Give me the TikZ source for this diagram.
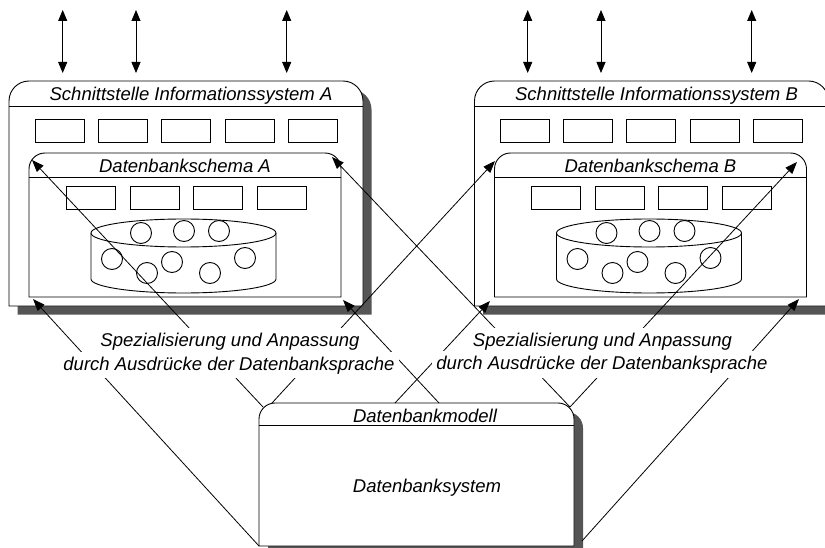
\documentclass[tikz,border=0pt]{standalone}
\usepackage{fontspec}
\setmainfont{Liberation Sans}
\usetikzlibrary{arrows.meta}
\definecolor{shadowgray}{RGB}{85,85,85}
\tikzset{
  frame/.style={draw=black, line width=0.9pt, fill=white},
  shade/.style={fill=shadowgray, draw=none},
  slot/.style={draw=black, line width=0.9pt},
  conn/.style={line width=0.8pt, -{Triangle[length=12pt,width=9pt]}},
  io/.style={line width=0.8pt, {Triangle[length=11pt,width=9pt]}-{Triangle[length=11pt,width=9pt]}},
  title/.style={font=\fontsize{18.5}{22}\selectfont\itshape, inner sep=0pt},
  note/.style={title, fill=white, text height=14.5pt, text depth=4pt, inner xsep=4pt, inner ysep=4pt},
}
% box with a rounded tab on top: left, top, right, bottom, radius
\newcommand\tabshape[5]{(#1,#4) [rounded corners=#5] -- (#1,#2) -- (#3,#2) [sharp corners] -- (#3,#4) -- cycle}
\begin{document}
\begin{tikzpicture}[x=1pt,y=-1pt]
\useasboundingbox (0,0) rectangle (825,548);
\clip (0,0) rectangle (825,548);

% two information systems, each with its database schema
\foreach \sys/\dx in {A/0,B/465.5} {
  \begin{scope}[xshift=\dx pt]
    \fill[shade, xshift=8.5pt, yshift=-8.5pt] \tabshape{9}{81}{363}{306}{20pt};
    \draw[frame] \tabshape{9}{81}{363}{306}{20pt};
    \draw[slot] (9,106) -- (363,106);
    \node[title, anchor=base] (ttl\sys) at (191,100.5) {Schnittstelle Informationssystem \sys};
    \foreach \x in {35,98,161,225,288} \draw[slot] (\x,119) rectangle ++(49,23);
    % database schema
    \draw[frame] \tabshape{29}{153}{341}{297}{16pt};
    \draw[slot] (29,177) -- (341,177);
    \node[title, anchor=base] (sch\sys) at (185,173) {Datenbankschema \sys};
    \foreach \x in {66,130,193,257} \draw[slot] (\x,186) rectangle ++(49,23);
    % data store
    \draw[slot] (183.5,233) ellipse[x radius=92.5pt, y radius=14pt];
    \draw[slot] (91,233) -- (91,279) arc[start angle=180, end angle=360, x radius=92.5pt, y radius=14pt] -- (276,233);
    \foreach \cx/\cy in {141/233,184/231,219/231,112/259,147/273,172/262,210/273,245/258}
      \draw[slot] (\cx,\cy) circle[radius=10.5pt];
  \end{scope}
}

% database model / database system
\fill[shade, xshift=9pt, yshift=-9pt] \tabshape{259}{403}{574}{546}{16pt};
\draw[frame] \tabshape{259}{403}{574}{546}{16pt};
\draw[slot] (259,425) -- (574,425);
\node[title, anchor=base] (model) at (425,422.5) {Datenbankmodell};
\node[title, anchor=base] (dbs) at (427,492) {Datenbanksystem};

% external interfaces
\foreach \x [count=\i] in {62.7,136,286.7,527.7,601,751.7} {
  \coordinate (up\i) at (\x,10);
  \coordinate (dn\i) at (\x,73);
  \draw[io] (up\i) -- (dn\i);
}

% connector end points
\coordinate (iaTL) at (32,160);
\coordinate (iaTR) at (332,157);
\coordinate (iaBL) at (33,299);
\coordinate (iaBR) at (343,300);
\coordinate (ibTL) at (495,161);
\coordinate (ibTR) at (797,162);
\coordinate (ibBL) at (490,301);
\coordinate (ibBR) at (799,299);
\coordinate (dmTL1) at (263,407);
\coordinate (dmTL2) at (272,403);
\coordinate (dmT1) at (395,403);
\coordinate (dmT2) at (439,403);
\coordinate (dmTR) at (570,407);
\coordinate (dmBL) at (259,546);
\coordinate (dmBR) at (582,541);

\draw[conn] (dmTL1) -- (iaTL);
\draw[conn] (dmTL2) -- (ibTL);
\draw[conn] (dmTR) -- (iaTR);
\draw[conn] (dmTR) -- (ibTR);
\draw[conn] (dmT2) -- (iaBR);
\draw[conn] (dmT1) -- (ibBL);
\draw[conn] (dmBL) -- (iaBL);
\draw[conn] (dmBR) -- (ibBR);

% specialisation labels
\node[note, anchor=base] (spA1) at (230,346) {Spezialisierung und Anpassung};
\node[note, anchor=base] (spA2) at (229,370) {durch Ausdrücke der Datenbanksprache};
\node[note, anchor=base] (spB1) at (602.5,346) {Spezialisierung und Anpassung};
\node[note, anchor=base] (spB2) at (602,369.5) {durch Ausdrücke der Datenbanksprache};
\end{tikzpicture}
\end{document}
